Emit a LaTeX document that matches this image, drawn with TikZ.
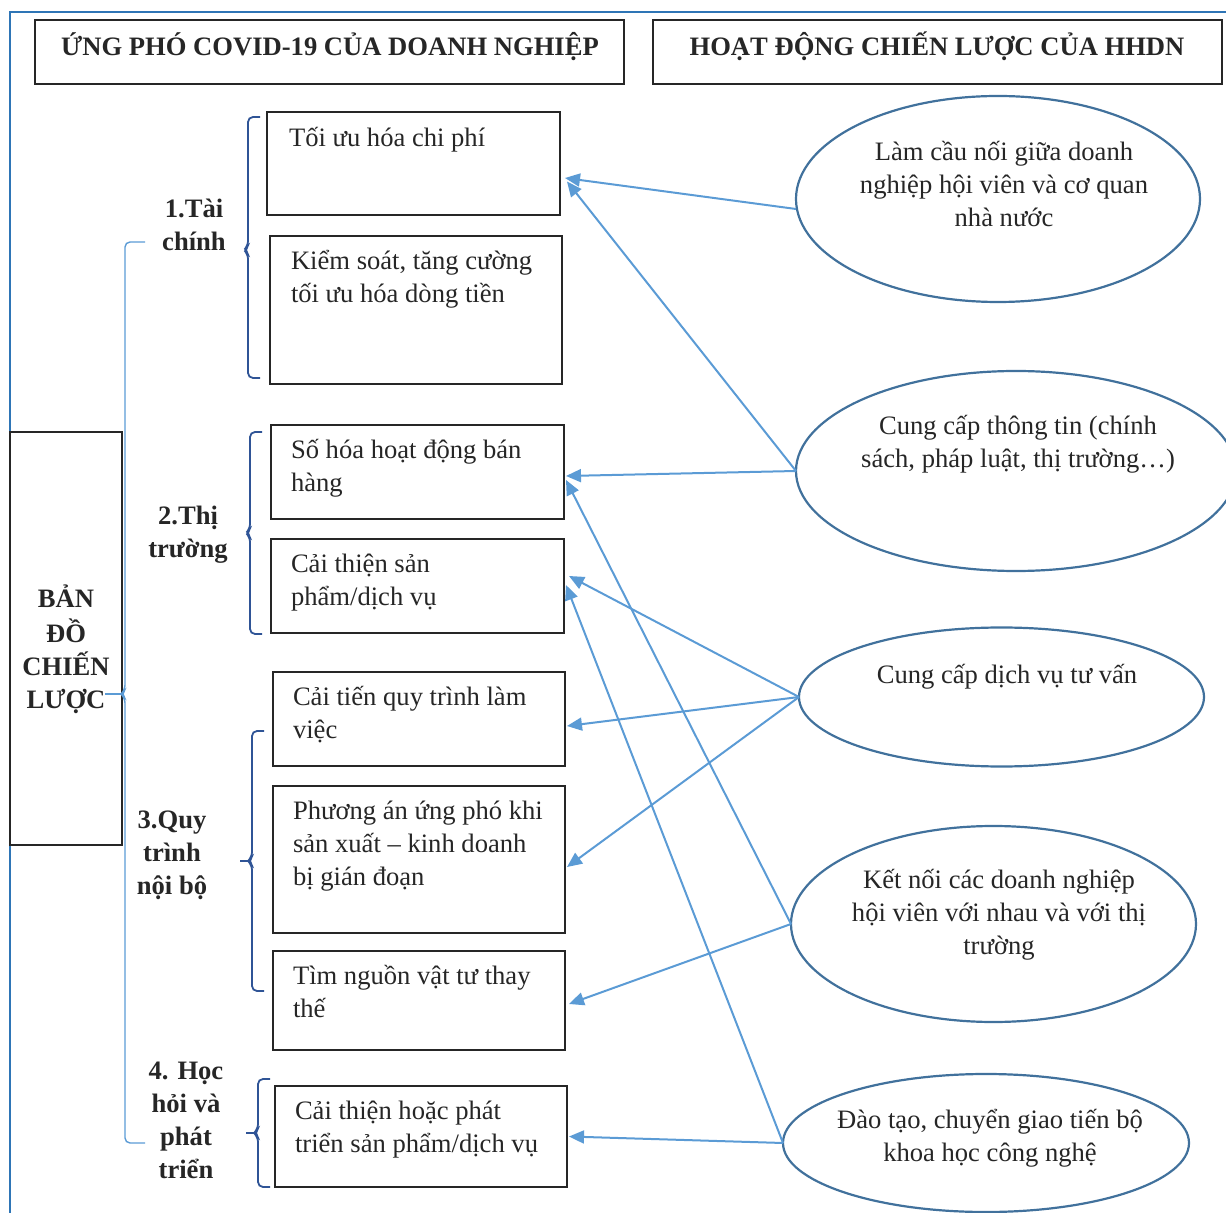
\documentclass[tikz,border=0pt]{standalone}
\usepackage{fontspec}
\setmainfont{Liberation Serif}
\usetikzlibrary{shapes.geometric,arrows.meta,calc}
\definecolor{arrowblue}{HTML}{5B9BD5}
\definecolor{ellblue}{HTML}{41719C}
\definecolor{braceblue}{HTML}{2F5496}
\definecolor{framblue}{HTML}{2E75B6}
\definecolor{boxgray}{HTML}{262626}
\definecolor{textgray}{HTML}{262626}
\begin{document}
\begin{tikzpicture}[x=0.5pt,y=-0.5pt,
  every node/.style={inner sep=0pt, outer sep=0pt},
  box/.style={draw=boxgray, line width=0.7pt, rectangle},
  ell/.style={draw=ellblue, line width=1.1pt, ellipse},
  txt/.style={font=\fontsize{13.3}{16.5}\selectfont, text=textgray, align=left, anchor=north west},
  ctxt/.style={font=\fontsize{13.3}{16.5}\selectfont, text=textgray, align=center, anchor=north},
  btxt/.style={font=\bfseries\fontsize{13.3}{16.5}\selectfont, text=textgray, align=center, anchor=north},
  arr/.style={draw=arrowblue, line width=1pt, -{Triangle[length=7.5pt,width=6.5pt]}},
  subbrace/.style={draw=braceblue, line width=0.9pt, rounded corners=2.5pt},
  bigbrace/.style={draw=arrowblue, line width=0.7pt, rounded corners=2.5pt},
]
\useasboundingbox (0,0) rectangle (1226,1213);
\clip (0,0) rectangle (1226,1213);

% frame
\draw[framblue, line width=1pt] (10,1213) -- (10,12) -- (1226,12);

% headers
\node[box, minimum width=294.5pt, minimum height=32pt] (h1) at (329.5,52) {};
\node[btxt] (h1t) at (330,32) {\strut ỨNG PHÓ COVID-19 CỦA DOANH NGHIỆP};
\node[box, minimum width=284.5pt, minimum height=32pt] (h2) at (937.5,52) {};
\node[btxt] (h2t) at (937,32) {\strut HOẠT ĐỘNG CHIẾN LƯỢC CỦA HHDN};

% strategy map box
\node[box, minimum width=56pt, minimum height=206.5pt] (map) at (66,638.5) {};
\node[btxt] (mapt) at (66,584) {\strut BẢN\\ĐỒ\\CHIẾN\\LƯỢC};

% big brace
\draw[bigbrace] (145,242) -- (125,242) -- (125,690) -- (121,694) -- (125,698) -- (125,1143) -- (145,1143);
\draw[bigbrace] (122,694) -- (105,694);

% group labels
\node[btxt] (l1) at (194,194) {\strut 1.Tài\\chính};
\node[btxt] (l2) at (188,501) {\strut 2.Thị\\trường};
\node[btxt] (l3) at (172,805) {\strut 3.Quy\\trình\\nội bộ};
\node[btxt] (l4) at (186,1056) {\strut 4. Học\\hỏi và\\phát\\triển};

% sub braces
\draw[subbrace] (260,117) -- (248,117) -- (248,246) -- (244,250) -- (248,254) -- (248,378) -- (260,378);
\draw[subbrace] (262,432) -- (250,432) -- (250,529) -- (246,533) -- (250,537) -- (250,634) -- (262,634);
\draw[subbrace] (264,731) -- (252,731) -- (252,857) -- (248,861) -- (252,865) -- (252,991) -- (264,991);
\draw[subbrace] (249,861) -- (240,861);
\draw[subbrace] (270,1079) -- (258,1079) -- (258,1129) -- (254,1133) -- (258,1137) -- (258,1187) -- (270,1187);
\draw[subbrace] (255,1133) -- (246,1133);

% boxes
\node[box, minimum width=146.5pt, minimum height=51.5pt] (r1) at (413.5,163.5) {};
\node[txt] (r1t) at (289,123) {\strut Tối ưu hóa chi phí};
\node[box, minimum width=146pt, minimum height=74pt] (r2) at (416,310) {};
\node[txt] (r2t) at (291,246) {\strut Kiểm soát, tăng cường\\tối ưu hóa dòng tiền};
\node[box, minimum width=146.5pt, minimum height=47pt] (r3) at (417.5,472) {};
\node[txt] (r3t) at (291,435) {\strut Số hóa hoạt động bán\\hàng};
\node[box, minimum width=146.5pt, minimum height=47pt] (r4) at (417.5,586) {};
\node[txt] (r4t) at (291,549) {\strut Cải thiện sản\\phẩm/dịch vụ};
\node[box, minimum width=146pt, minimum height=47pt] (r5) at (419,719) {};
\node[txt] (r5t) at (293,682) {\strut Cải tiến quy trình làm\\việc};
\node[box, minimum width=146pt, minimum height=73.5pt] (r6) at (419,859.5) {};
\node[txt] (r6t) at (293,796) {\strut Phương án ứng phó khi\\sản xuất – kinh doanh\\bị gián đoạn};
\node[box, minimum width=146pt, minimum height=49.5pt] (r7) at (419,1000.5) {};
\node[txt] (r7t) at (293,961) {\strut Tìm nguồn vật tư thay\\thế};
\node[box, minimum width=146pt, minimum height=50.5pt] (r8) at (421,1136.5) {};
\node[txt] (r8t) at (295,1096) {\strut Cải thiện hoặc phát\\triển sản phẩm/dịch vụ};

% ellipses
\node[ell, minimum width=202pt, minimum height=103pt] (e1) at (998,199) {};
\node[ctxt] (e1t) at (1004,137) {\strut Làm cầu nối giữa doanh\\nghiệp hội viên và cơ quan\\nhà nước};
\node[ell, minimum width=220pt, minimum height=100pt] (e2) at (1016,471) {};
\node[ctxt] (e2t) at (1018,411) {\strut Cung cấp thông tin (chính\\sách, pháp luật, thị trường…)};
\node[ell, minimum width=202.5pt, minimum height=69.5pt] (e3) at (1001.5,697) {};
\node[ctxt] (e3t) at (1007,660) {\strut Cung cấp dịch vụ tư vấn};
\node[ell, minimum width=202.5pt, minimum height=98pt] (e4) at (993.5,924) {};
\node[ctxt] (e4t) at (999,865) {\strut Kết nối các doanh nghiệp\\hội viên với nhau và với thị\\trường};
\node[ell, minimum width=203pt, minimum height=69pt] (e5) at (986,1143) {};
\node[ctxt] (e5t) at (990,1105) {\strut Đào tạo, chuyển giao tiến bộ\\khoa học công nghệ};

% arrows
\draw[arr] ($(e1.west)+(0,10)$) -- ($(r1.east)+(5,14.5)$);
\draw[arr] (e2.west) -- ($(r1.east)+(7,18)$);
\draw[arr] (e2.west) -- ($(r3.east)+(2,4)$);
\draw[arr] (e3.west) -- ($(r4.east)+(5,-10)$);
\draw[arr] (e3.west) -- ($(r5.east)+(2,7)$);
\draw[arr] (e3.west) -- ($(r6.east)+(2,7.5)$);
\draw[arr] (e4.west) -- ($(r3.east)+(2,8)$);
\draw[arr] (e4.west) -- ($(r7.east)+(4,3.5)$);
\draw[arr] (e5.west) -- ($(r4.east)+(2,-1)$);
\draw[arr] (e5.west) -- ($(r8.east)+(2,0)$);
\end{tikzpicture}
\end{document}
